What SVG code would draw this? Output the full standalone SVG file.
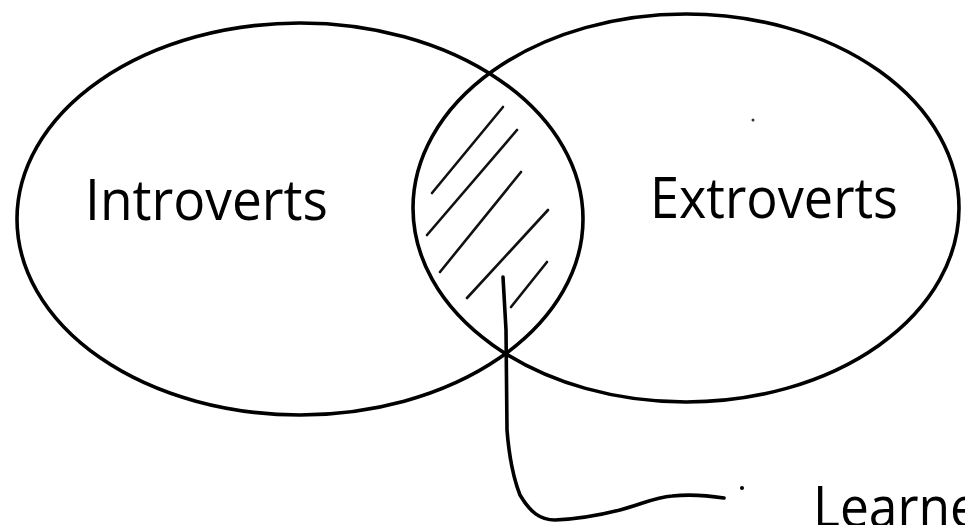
<svg xmlns="http://www.w3.org/2000/svg" width="965" height="525" viewBox="0 0 965 525">
  <style>
    .set { fill: none; stroke: #000; stroke-width: 3.6; }
    .hatch { fill: none; stroke: #111; stroke-width: 2.6; stroke-linecap: round; }
    .lbl { font-family: "Open Sans", "Liberation Sans", sans-serif; font-size: 56px; fill: #000; }
    .conn { fill: none; stroke: #000; stroke-width: 3.6; stroke-linecap: round; stroke-linejoin: round; }
  </style>
  <rect width="965" height="525" fill="#fff"/>
  <g id="introverts">
    <ellipse class="set" cx="300" cy="219" rx="283" ry="196"/>
    <text class="lbl" x="85" y="220" textLength="243" lengthAdjust="spacingAndGlyphs">Introverts</text>
  </g>
  <g id="extroverts">
    <ellipse class="set" cx="686" cy="208" rx="273" ry="194"/>
    <text class="lbl" x="650" y="218" textLength="248" lengthAdjust="spacingAndGlyphs">Extroverts</text>
  </g>
  <g id="intersection">
    <line class="hatch" x1="432" y1="193" x2="503" y2="107"/>
    <line class="hatch" x1="427" y1="235" x2="517" y2="130"/>
    <line class="hatch" x1="440" y1="272" x2="521" y2="172"/>
    <line class="hatch" x1="467" y1="298" x2="548" y2="210"/>
    <line class="hatch" x1="511" y1="307" x2="547" y2="262"/>
  </g>
  <g id="learners">
    <text class="lbl" x="813" y="527" textLength="166" lengthAdjust="spacingAndGlyphs">Learne</text>
    <circle cx="742" cy="488" r="2" fill="#000"/>
  </g>
  <g id="connectors">
    <path class="conn" d="M503,277 L506,330 L507,430 C509,455 512,475 520,495 C530,512 540,520 555,520 C580,519 600,515 620,510 C640,505 655,497 672,496 C690,494 705,495 724,498"/>
  </g>
  <circle cx="753" cy="120" r="1.5" fill="#333"/>
</svg>
